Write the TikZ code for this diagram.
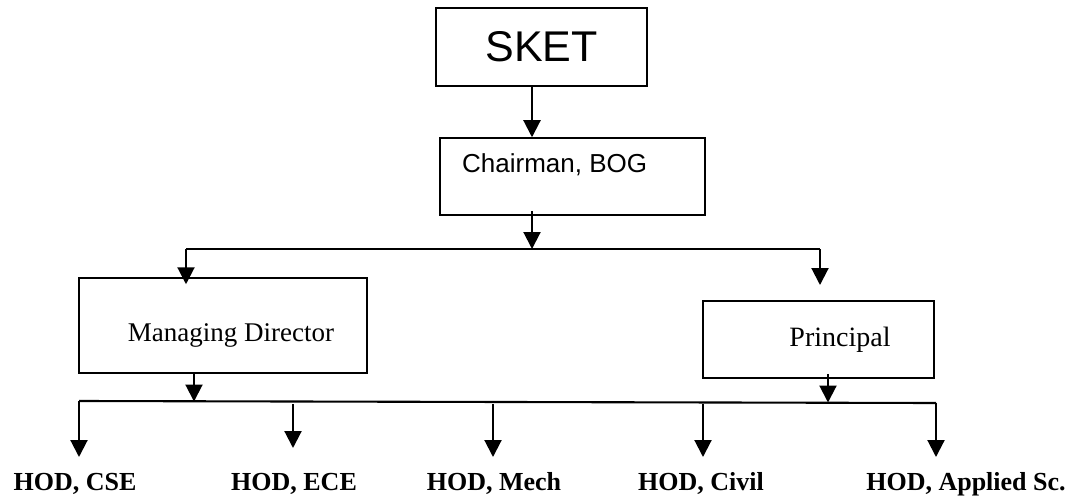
\documentclass[tikz,border=0pt]{standalone}
\usepackage{fontspec}
\setmainfont{Liberation Serif}
\newfontfamily\arialfont{Liberation Sans}
\usepackage{tikz}
\usetikzlibrary{arrows.meta,positioning,calc}

\begin{document}
\begin{tikzpicture}[
    x=1pt, y=-1pt,
    box/.style={rectangle, draw, line width=1.5pt, inner sep=0pt},
    boxtext/.style={inner sep=0pt, font=\fontsize{27}{30}\selectfont},
    hod/.style={inner sep=0pt, outer ysep=15pt, text height=18pt, anchor=base, font=\fontsize{26}{30}\selectfont\bfseries},
    arrow/.style={-{Triangle[width=17pt,length=17pt]}, line width=2.1pt},
    bus/.style={line width=2.1pt}
]
    \useasboundingbox (0,0) rectangle (1073,500);

    % Top of the chart
    \node[box, minimum width=211pt, minimum height=78pt, font=\arialfont\fontsize{43}{46}\selectfont] (sket) at (541.5,47) {SKET};
    \node[box, minimum width=265pt, minimum height=77pt] (chair) at (572.5,176.5) {};
    \node[boxtext, anchor=west, font=\arialfont\fontsize{26}{30}\selectfont] (chairtext) at (462,165) {Chairman, BOG};

    % Second level
    \node[box, minimum width=288pt, minimum height=95pt] (md) at (223,325.5) {};
    \node[boxtext] (mdtext) at (231,335) {Managing Director};
    \node[box, minimum width=231pt, minimum height=77pt] (prin) at (818.5,339.5) {};
    \node[boxtext, font=\fontsize{28}{30}\selectfont] (printext) at (840,340) {Principal};

    % Heads of departments
    \node[hod] (cse) at (75,490) {HOD, CSE};
    \node[hod] (ece) at (294,490) {HOD, ECE};
    \node[hod] (mech) at (494,490) {HOD, Mech};
    \node[hod] (civil) at (701,490) {HOD, Civil};
    \node[hod] (appl) at (966,490) {HOD, Applied Sc.};

    % Bus lines
    \coordinate (upl) at (186,249);
    \coordinate (upm) at (532,249);
    \coordinate (upr) at (820,249);
    \coordinate (lol) at (79,401);
    \coordinate (lor) at (936,403);
    \draw[bus] (upl) -- (upr);
    \draw[bus] (lol) -- (lor);

    % Arrows from the top
    \draw[arrow] (sket.south -| upm) -- (chair.north -| upm);
    \draw[arrow] ([yshift=5pt]chair.south -| upm) -- (upm);
    \draw[arrow] (upl) -- ([yshift=-7pt]md.north -| upl);
    \draw[arrow] (upr) -- ++(0,36);
    \draw[arrow] (md.south -| 194,0) -- (194,401.5);
    \draw[arrow] ([yshift=5pt]prin.south -| 828,0) -- (828,402.5);

    % Arrows down to the departments
    \draw[arrow] (lol) -- (lol |- cse.north);
    \draw[arrow] (293,404) -- (ece.north -| 293,0) [shorten >=9pt];
    \draw[arrow] (493,404) -- (mech.north -| 493,0);
    \draw[arrow] (703,404) -- (civil.north -| 703,0);
    \draw[arrow] (lor) -- (lor |- appl.north);
\end{tikzpicture}
\end{document}
